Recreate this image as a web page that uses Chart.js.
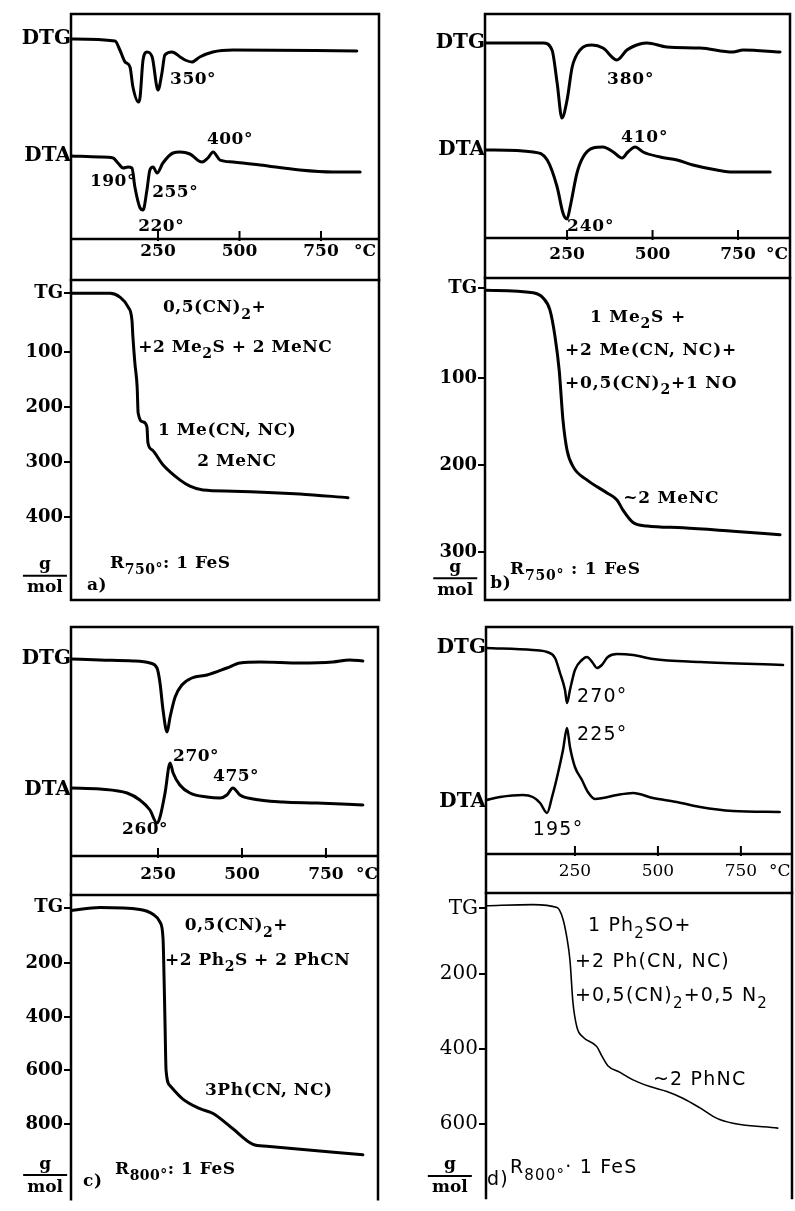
<!DOCTYPE html>
<html><head><meta charset="utf-8">
<script src="https://cdn.jsdelivr.net/npm/chart.js@4.4.1/dist/chart.umd.min.js"></script>
<style>
html,body{margin:0;padding:0;background:#fff;}
#wrap{position:relative;width:795px;height:1211px;overflow:hidden;background:#fff;}
canvas{position:absolute;left:0;top:0;}
</style></head><body><div id="wrap"></div>
<script>
// ===== DATA (temperature in °C, DTG/DTA in arbitrary units, TG in g/mol) =====
// panel a
const aDtgT = [-17,118,133,149,164,173,190,195,204,216,232,250,262,271,293,318,333,354,378,418,480,860];
const aDtgV = [200,198,189,177,172,152,137,142,179,187,182,149,166,184,187,182,179,177,182,187,189,188];
const aDtaT = [-17,72,112,127,143,158,170,179,195,204,216,225,235,247,265,296,318,348,385,403,419,440,480,563,685,787,870];
const aDtaV = [83,82,81,76,71,72,71,52,31,29,49,69,72,66,76,86,87,85,77,81,87,79,77,74,69,67,67];
const aTgT = [-17,103,133,158,170,173,179,186,189,204,216,219,232,265,318,348,388,480,685,833];
const aTgV = [-7,-7,0,18,42,73,120,164,211,227,236,265,278,305,333,344,351,353,358,365];
// panel b
const bDtgT = [10,180,206,221,235,250,265,288,323,355,396,425,463,484,542,639,735,765,873];
const bDtgV = [195,195,188,155,120,138,171,188,193,190,178,188,194,195,191,190,186,188,186];
const bDtaT = [10,151,192,221,238,250,259,279,297,326,355,385,411,428,449,472,522,572,618,688,735,844];
const bDtaV = [88,86,78,51,25,19,31,65,81,90,91,86,80,86,91,86,81,78,73,68,66,66];
const bTgT = [10,151,180,200,215,227,238,250,268,308,367,396,414,443,484,589,735,873];
const bTgV = [-1,2,8,22,53,91,148,183,202,217,232,240,252,266,270,272,276,280];
// panel c
const cDtgT = [-9,77,176,226,247,256,265,277,286,301,321,351,396,455,494,554,673,771,821,860];
const cDtgV = [197,196,195,193,188,173,146,124,139,159,171,178,181,188,193,194,193,194,196,195];
const cDtaT = [-9,77,158,196,226,247,256,271,286,295,315,345,396,435,455,473,494,533,622,723,860];
const cDtaV = [68,67,63,56,46,33,39,63,93,83,71,63,59,58,61,68,61,57,54,53,51];
const cTgT = [-9,77,196,235,256,265,268,271,274,286,324,375,414,473,533,574,860];
const cTgV = [3,-8,-1,17,46,107,250,430,599,657,707,743,761,818,876,883,915];
// panel d
const dDtgT = [-18,123,166,190,205,220,226,235,250,271,286,304,316,331,349,377,425,485,627,877];
const dDtgV = [206,204,202,196,181,164,151,164,184,194,197,191,186,189,197,200,199,195,192,189];
const dDtaT = [-18,24,93,123,145,166,181,199,214,226,235,250,271,289,310,334,377,425,485,557,627,726,867];
const dDtaV = [54,57,59,57,51,41,57,81,104,126,107,87,74,62,55,56,59,61,56,52,47,43,42];
const dTgT = [-18,123,196,214,226,235,244,256,274,316,331,349,386,425,476,527,575,627,678,726,861];
const dTgV = [17,14,22,53,104,163,276,342,368,394,419,445,463,483,501,514,532,558,586,599,612];

// ticks
const xMajorTicks = [250, 500, 750];
const xMajorLabels = ['250', '500', '750'];
const unitLabel = '°C';
const upperLabels = ['DTG', 'DTA'];
const aUpperTicks = [200, 83];
const bUpperTicks = [195, 88];
const cUpperTicks = [197, 66];
const dUpperTicks = [206, 52];
const aTgTicks = [-7, 100, 200, 300, 400];
const aTgLabels = ['TG', '100', '200', '300', '400'];
const bTgTicks = [-3, 100, 200, 300];
const bTgLabels = ['TG', '100', '200', '300'];
const cTgTicks = [-8, 200, 400, 600, 800];
const cTgLabels = ['TG', '200', '400', '600', '800'];
const dTgTicks = [24, 200, 400, 600];
const dTgLabels = ['TG', '200', '400', '600'];

// ===== LAYOUT / STYLE =====
const W = 795, H = 1211, YW = 62;
const SERIF = "'DejaVu Serif', serif";
const SANS = "'DejaVu Sans', sans-serif";

const panels = [
  { box:{l:71,r:379,t:14,axis:239,tgTop:280,tgBot:600}, x:[-17,928], up:[0,225], tg:[-31,551], tgBottomLine:true,
    dtg:[aDtgT,aDtgV], dta:[aDtaT,aDtaV], tgc:[aTgT,aTgV], upTicks:aUpperTicks, tgTicks:aTgTicks, tgLabels:aTgLabels,
    lblOff:13, unitT:885, weight:'bold', tickSize:18, noteFam:SERIF, noteWeight:'bold', noteSize:17, ls:0.5, lw:3, tgLw:3,
    upNotes:[{t:287,v:159,s:'350°'},{t:400,v:99,s:'400°'},{t:41,v:57,s:'190°'},{t:232,v:46,s:'255°'},{t:189,v:12,s:'220°'}],
    tgNotes:[{t:265,v:20,s:'0,5(CN)_2+'},{t:189,v:91,s:'+2 Me_2S + 2 MeNC'},{t:250,v:242,s:'1 Me(CN, NC)'},{t:370,v:300,s:'2 MeNC'},{t:103,v:484,s:'R_{750°}: 1 FeS'},{t:32,v:524,s:'a)'}],
    frac:{t:-97,v:507} },
  { box:{l:485,r:790,t:14,axis:238,tgTop:278,tgBot:600}, x:[10,902], up:[0,224], tg:[-15,355], tgBottomLine:true,
    dtg:[bDtgT,bDtgV], dta:[bDtaT,bDtaV], tgc:[bTgT,bTgV], upTicks:bUpperTicks, tgTicks:bTgTicks, tgLabels:bTgLabels,
    lblOff:17, unitT:864, weight:'bold', tickSize:18, noteFam:SERIF, noteWeight:'bold', noteSize:17, ls:0.8, lw:3, tgLw:3,
    upNotes:[{t:367,v:158,s:'380°'},{t:408,v:100,s:'410°'},{t:250,v:11,s:'240°'}],
    tgNotes:[{t:317,v:30,s:'1 Me_2S +'},{t:244,v:68,s:'+2 Me(CN, NC)+'},{t:244,v:106,s:'+0,5(CN)_2+1 NO'},{t:414,v:238,s:'~2 MeNC'},{t:83,v:320,s:'R_{750°} : 1 FeS'},{t:25,v:336,s:'b)'}],
    frac:{t:-77,v:330} },
  { box:{l:71,r:378,t:627,axis:856,tgTop:895,tgBot:1211}, x:[-9,905], up:[0,229], tg:[-55,1081], tgBottomLine:false,
    dtg:[cDtgT,cDtgV], dta:[cDtaT,cDtaV], tgc:[cTgT,cTgV], upTicks:cUpperTicks, tgTicks:cTgTicks, tgLabels:cTgLabels,
    lblOff:19, unitT:872, weight:'bold', tickSize:18, noteFam:SERIF, noteWeight:'bold', noteSize:17, ls:0.5, lw:3, tgLw:3,
    upNotes:[{t:295,v:99,s:'270°'},{t:414,v:79,s:'475°'},{t:143,v:26,s:'260°'}],
    tgNotes:[{t:330,v:60,s:'0,5(CN)_2+'},{t:271,v:189,s:'+2 Ph_2S + 2 PhCN'},{t:390,v:674,s:'3Ph(CN, NC)'},{t:122,v:970,s:'R_{800°}: 1 FeS'},{t:27,v:1016,s:'c)'}],
    frac:{t:-86,v:991} },
  { box:{l:486,r:792,t:627,axis:854,tgTop:893,tgBot:1211}, x:[-18,904], up:[0,227], tg:[-17,799], tgBottomLine:false,
    dtg:[dDtgT,dDtgV], dta:[dDtaT,dDtaV], tgc:[dTgT,dTgV], upTicks:dUpperTicks, tgTicks:dTgTicks, tgLabels:dTgLabels,
    lblOff:18, unitT:867, weight:'normal', tickSize:20, noteFam:SANS, noteWeight:'normal', noteSize:19, ls:1.2, lw:2.5, tgLw:1.6,
    upNotes:[{t:256,v:157,s:'270°'},{t:256,v:119,s:'225°'},{t:123,v:24,s:'195°'}],
    tgNotes:[{t:289,v:71,s:'1 Ph_2SO+'},{t:250,v:168,s:'+2 Ph(CN, NC)'},{t:250,v:258,s:'+0,5(CN)_2+0,5 N_2'},{t:485,v:483,s:'~2 PhNC'},{t:54,v:720,s:'R_{800°}· 1 FeS'},{t:-15,v:750,s:'d)'}],
    frac:{t:-127,v:740} }
];

// ===== HELPERS =====
const wrap = document.getElementById('wrap');
function pts(T, V){ return T.map((t,i)=>({x:t, y:V[i]})); }
function parseRich(s){
  const out=[]; let i=0, buf='';
  while(i<s.length){
    if(s[i]==='_'){
      if(buf){out.push({t:buf,sub:false}); buf='';}
      if(s[i+1]==='{'){ const j=s.indexOf('}',i); out.push({t:s.slice(i+2,j),sub:true}); i=j+1; }
      else { out.push({t:s[i+1],sub:true}); i+=2; }
    } else { buf+=s[i]; i++; }
  }
  if(buf) out.push({t:buf,sub:false});
  return out;
}
function drawRich(ctx, s, x, y, size, weight, family, align, ls){
  const segs = parseRich(s);
  const f = sub => `${weight} ${sub?Math.round(size*0.8):size}px ${family}`;
  ctx.letterSpacing = (ls||0) + 'px';
  let w=0; segs.forEach(g=>{ctx.font=f(g.sub); g.w=ctx.measureText(g.t).width; w+=g.w;});
  let cx = align==='center' ? x-w/2 : x;
  ctx.textBaseline='middle'; ctx.textAlign='left'; ctx.fillStyle='#000';
  segs.forEach(g=>{ctx.font=f(g.sub); ctx.fillText(g.t, cx, y+(g.sub?size*0.42:0)); cx+=g.w;});
  ctx.letterSpacing = '0px';
}
function drawNotes(chart, notes, p){
  const ctx=chart.ctx, xs=chart.scales.x, ys=chart.scales.y;
  ctx.save();
  notes.forEach(n=>drawRich(ctx, n.s, xs.getPixelForValue(n.t), ys.getPixelForValue(n.v),
    n.size||p.noteSize, n.w||p.noteWeight, n.fam||p.noteFam, n.align||'left', n.ls!==undefined?n.ls:p.ls));
  ctx.restore();
}

function makeCanvas(){ const c=document.createElement('canvas'); c.width=W; c.height=H; wrap.appendChild(c); return c; }

function lineDs(T,V,lw){ return {data:pts(T,V), borderColor:'#000', borderWidth:lw, pointRadius:0, fill:false, cubicInterpolationMode:'monotone', borderCapStyle:'round', borderJoinStyle:'round'}; }

function baseOpts(){ return {responsive:false, animation:false, devicePixelRatio:1, events:[], plugins:{legend:{display:false}, tooltip:{enabled:false}}}; }

panels.forEach(p=>{
  const b=p.box;
  const xFont = {family:SERIF, size:17, weight:p.weight};
  // ---------- upper (DTG / DTA) ----------
  const upPlugin = {id:'upFrame', afterDraw(chart){
    const ctx=chart.ctx, a=chart.chartArea, xs=chart.scales.x;
    ctx.save(); ctx.strokeStyle='#000'; ctx.lineWidth=2.5; ctx.lineCap='square';
    ctx.beginPath();
    ctx.moveTo(a.left, xs.bottom); ctx.lineTo(a.left, a.top); ctx.lineTo(a.right, a.top); ctx.lineTo(a.right, xs.bottom);
    ctx.moveTo(a.left, a.bottom); ctx.lineTo(a.right, a.bottom);
    ctx.stroke();
    ctx.lineWidth=2; ctx.lineCap='butt'; ctx.beginPath();
    xMajorTicks.forEach(v=>{ const x=xs.getPixelForValue(v); ctx.moveTo(x, a.bottom+2); ctx.lineTo(x, a.bottom-8); });
    ctx.stroke(); ctx.restore();
    drawNotes(chart, p.upNotes, p);
    drawNotes(chart, [{t:p.unitT, v:-p.lblOff, s:unitLabel, align:'center', fam:SERIF, w:p.weight, size:17, ls:0}], p);
  }};
  new Chart(makeCanvas(), {
    type:'line',
    data:{datasets:[lineDs(p.dtg[0],p.dtg[1],p.lw), lineDs(p.dta[0],p.dta[1],p.lw)]},
    options:Object.assign(baseOpts(), {
      layout:{padding:{left:b.l-YW, top:b.t, right:W-b.r, bottom:H-b.tgTop}},
      scales:{
        x:{type:'linear', min:p.x[0], max:p.x[1],
           afterBuildTicks:s=>{ s.ticks = xMajorTicks.map(v=>({value:v})); },
           afterFit:s=>{ s.height = b.tgTop-b.axis; },
           grid:{display:false, drawTicks:false}, border:{display:false},
           ticks:{autoSkip:false, maxRotation:0, minRotation:0, color:'#000', font:xFont, padding:p.lblOff-17*0.6,
                  callback:(v,i)=>xMajorLabels[i]}},
        y:{type:'linear', min:p.up[0], max:p.up[1],
           afterBuildTicks:s=>{ s.ticks = p.upTicks.map(v=>({value:v})); },
           afterFit:s=>{ s.width = YW; },
           grid:{display:false, drawTicks:false}, border:{display:false},
           ticks:{autoSkip:false, color:'#000', font:{family:SERIF, size:20, weight:'bold'}, padding:0,
                  callback:(v,i)=>upperLabels[i]}}
      }
    }),
    plugins:[upPlugin]
  });
  // ---------- lower (TG) ----------
  const tgPlugin = {id:'tgFrame', afterDraw(chart){
    const ctx=chart.ctx, a=chart.chartArea;
    ctx.save(); ctx.strokeStyle='#000'; ctx.lineWidth=2.5; ctx.lineCap='square';
    ctx.beginPath();
    ctx.moveTo(a.left, a.bottom); ctx.lineTo(a.left, a.top); ctx.lineTo(a.right, a.top); ctx.lineTo(a.right, a.bottom);
    if(p.tgBottomLine){ ctx.moveTo(a.left, a.bottom); ctx.lineTo(a.right, a.bottom); }
    ctx.stroke(); ctx.restore();
    drawNotes(chart, p.tgNotes, p);
    // g/mol unit fraction
    const xs=chart.scales.x, ys=chart.scales.y;
    const cx=xs.getPixelForValue(p.frac.t), cy=ys.getPixelForValue(p.frac.v);
    ctx.save();
    drawRich(ctx,'g',cx,cy-11,17,'bold',SERIF,'center',0);
    drawRich(ctx,'mol',cx,cy+12,17,'bold',SERIF,'center',0);
    ctx.strokeStyle='#000'; ctx.lineWidth=2; ctx.beginPath(); ctx.moveTo(cx-22,cy); ctx.lineTo(cx+22,cy); ctx.stroke();
    ctx.restore();
  }};
  new Chart(makeCanvas(), {
    type:'line',
    data:{datasets:[lineDs(p.tgc[0],p.tgc[1],p.tgLw)]},
    options:Object.assign(baseOpts(), {
      layout:{padding:{left:b.l-YW, top:b.tgTop, right:W-b.r, bottom:H-b.tgBot}},
      scales:{
        x:{type:'linear', display:false, min:p.x[0], max:p.x[1]},
        y:{type:'linear', reverse:true, min:p.tg[0], max:p.tg[1],
           afterBuildTicks:s=>{ s.ticks = p.tgTicks.map(v=>({value:v})); },
           afterFit:s=>{ s.width = YW; },
           grid:{display:true, drawOnChartArea:false, drawTicks:true, tickLength:7, color:'#000', lineWidth:2},
           border:{display:false},
           ticks:{autoSkip:false, color:'#000', font:{family:SERIF, size:p.tickSize, weight:p.weight}, padding:1,
                  callback:(v,i)=>p.tgLabels[i]}}
      }
    }),
    plugins:[tgPlugin]
  });
});
</script>
</body></html>
